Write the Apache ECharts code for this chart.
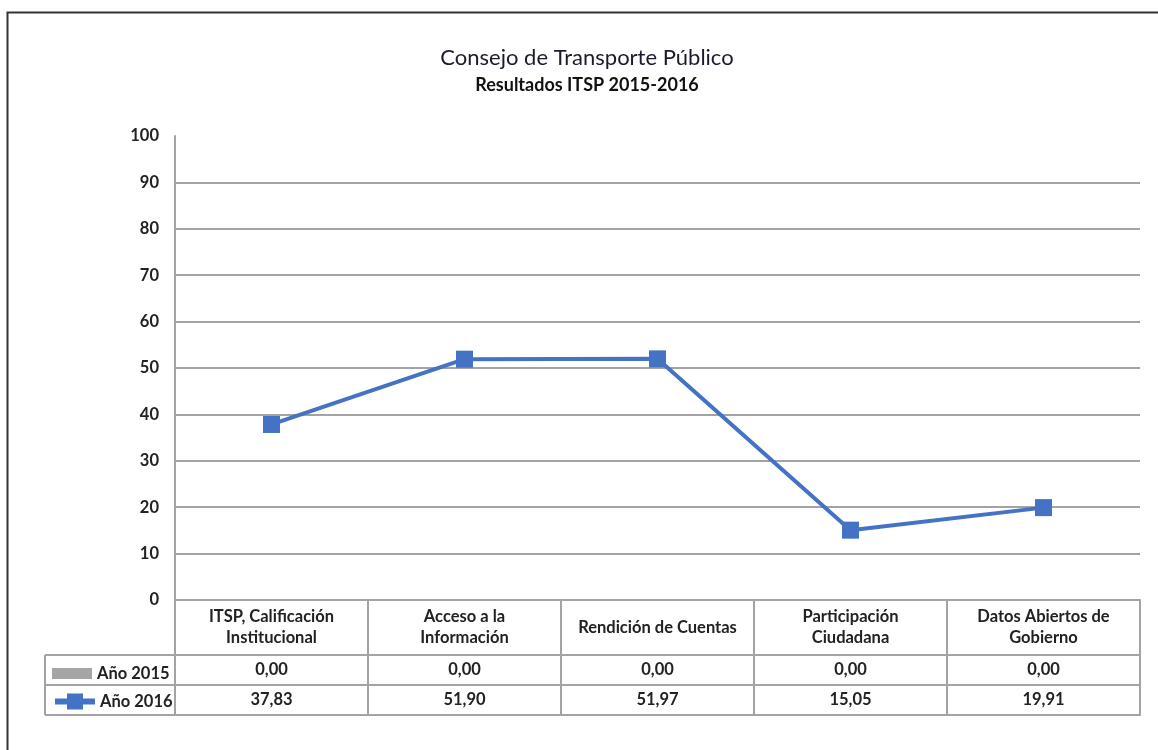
<!DOCTYPE html>
<html>
<head>
<meta charset="utf-8">
<script src="https://cdn.jsdelivr.net/npm/echarts@6/dist/echarts.min.js"></script>
<style>
  html, body { margin: 0; padding: 0; background: #fff; }
  #chart { width: 1158px; height: 750px; }
</style>
</head>
<body>
<div id="chart"></div>
<script>
// datos
const categories = [
  'ITSP, Calificación\nInstitucional',
  'Acceso a la\nInformación',
  'Rendición de Cuentas',
  'Participación\nCiudadana',
  'Datos Abiertos de\nGobierno'
];
const seriesNames = ['Año 2015', 'Año 2016'];
const values2015 = [0, 0, 0, 0, 0];
const values2016 = [37.83, 51.90, 51.97, 15.05, 19.91];
const yMin = 0, yMax = 100, yStep = 10;

// layout (px)
const GRID_LEFT = 175, GRID_RIGHT = 18, GRID_TOP = 136, AXIS_Y = 600;
const HEAD_H = 55, ROW_H = 30, TABLE_LEFT = 45;
const FONT = 'Lato, "Open Sans", sans-serif';
const FS = 16.5;
const TXT = '#222';
const LINE_GRAY = '#a3a3a3';

const fmt = v => v.toFixed(2).replace('.', ',');

const row1Y = AXIS_Y + HEAD_H;
const row2Y = row1Y + ROW_H;
const row3Y = row2Y + ROW_H;

const splitColors = [];
for (let v = yMin; v <= yMax; v += yStep) splitColors.push(v === yMax ? 'rgba(0,0,0,0)' : LINE_GRAY);

const chart = echarts.init(document.getElementById('chart'), null, { renderer: 'canvas' });

const tableAxis = (data, offset, showLine) => ({
  type: 'category',
  position: 'bottom',
  offset: offset,
  data: data,
  boundaryGap: true,
  axisLine: { show: showLine, lineStyle: { color: LINE_GRAY, width: 2 } },
  axisTick: { show: false },
  splitLine: { show: false },
  axisLabel: {
    show: data.length > 0,
    margin: ROW_H / 2,
    verticalAlign: 'middle',
    color: TXT, fontFamily: FONT, fontWeight: 'bold', fontSize: FS
  }
});

const option = {
  backgroundColor: '#fff',
  animation: false,
  title: {
    text: 'Consejo de Transporte Público',
    subtext: 'Resultados ITSP 2015-2016',
    left: 582,
    top: 42,
    textAlign: 'center',
    itemGap: 7,
    textStyle: { fontFamily: FONT, fontSize: 22, fontWeight: 'normal', color: '#1b1b2b' },
    subtextStyle: { fontFamily: FONT, fontSize: 18, fontWeight: 'bold', color: '#111' }
  },
  legend: [
    {
      data: [{ name: seriesNames[0], icon: 'rect' }],
      left: 47, top: row1Y + 5,
      itemWidth: 40, itemHeight: 11, itemGap: 5,
      textStyle: { fontFamily: FONT, fontWeight: 'bold', fontSize: FS, color: TXT }
    },
    {
      data: [seriesNames[1]],
      left: 47, top: row2Y + 3,
      itemWidth: 40, itemHeight: 20, itemGap: 5,
      lineStyle: { width: 6 },
      textStyle: { fontFamily: FONT, fontWeight: 'bold', fontSize: FS, color: TXT }
    }
  ],
  grid: {
    left: GRID_LEFT, right: GRID_RIGHT, top: GRID_TOP, bottom: 750 - AXIS_Y,
    containLabel: false, outerBoundsMode: 'none'
  },
  xAxis: [
    {
      type: 'category',
      position: 'bottom',
      data: categories,
      boundaryGap: true,
      axisLine: { show: true, lineStyle: { color: LINE_GRAY, width: 2 } },
      axisTick: { show: true, alignWithLabel: false, length: HEAD_H + 2 * ROW_H, lineStyle: { color: LINE_GRAY, width: 2 } },
      splitLine: { show: false },
      axisLabel: {
        margin: HEAD_H / 2,
        verticalAlign: 'middle',
        lineHeight: 21,
        interval: 0,
        color: TXT, fontFamily: FONT, fontWeight: 'bold', fontSize: FS
      }
    },
    tableAxis(values2015.map(fmt), HEAD_H, true),
    tableAxis(values2016.map(fmt), HEAD_H + ROW_H, true),
    tableAxis([], HEAD_H + 2 * ROW_H, true)
  ],
  yAxis: {
    type: 'value',
    min: yMin, max: yMax, interval: yStep,
    axisLine: { show: true, lineStyle: { color: LINE_GRAY, width: 2 } },
    axisTick: { show: false },
    splitLine: { show: true, lineStyle: { color: splitColors, width: 2 } },
    axisLabel: { margin: 16, color: TXT, fontFamily: FONT, fontWeight: 'bold', fontSize: FS }
  },
  graphic: [
    // marco exterior
    { type: 'rect', left: 5, top: 10, shape: { width: 1200, height: 800 }, style: { fill: null, stroke: '#333', lineWidth: 2 }, silent: true },
    // columna de leyenda de la tabla
    { type: 'line', shape: { x1: TABLE_LEFT, y1: row1Y, x2: GRID_LEFT, y2: row1Y }, style: { stroke: LINE_GRAY, lineWidth: 2 } },
    { type: 'line', shape: { x1: TABLE_LEFT, y1: row2Y, x2: GRID_LEFT, y2: row2Y }, style: { stroke: LINE_GRAY, lineWidth: 2 } },
    { type: 'line', shape: { x1: TABLE_LEFT, y1: row3Y, x2: GRID_LEFT, y2: row3Y }, style: { stroke: LINE_GRAY, lineWidth: 2 } },
    { type: 'line', shape: { x1: TABLE_LEFT, y1: row1Y, x2: TABLE_LEFT, y2: row3Y }, style: { stroke: LINE_GRAY, lineWidth: 2 } }
  ],
  series: [
    {
      name: seriesNames[0],
      type: 'line',
      data: values2015,
      showSymbol: false,
      symbol: 'none',
      color: '#a5a5a5',
      lineStyle: { color: '#a5a5a5', width: 2 }
    },
    {
      name: seriesNames[1],
      type: 'line',
      data: values2016,
      symbol: 'rect',
      symbolSize: 17,
      color: '#4472c4',
      itemStyle: { color: '#4472c4' },
      lineStyle: { color: '#4472c4', width: 4 },
      z: 5
    }
  ]
};

chart.setOption(option);
</script>
</body>
</html>
